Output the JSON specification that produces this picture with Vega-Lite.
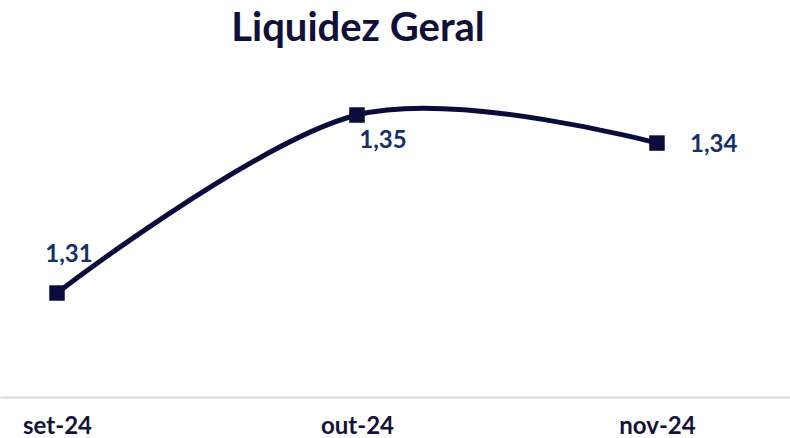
{
  "$schema": "https://vega.github.io/schema/vega-lite/v6.json",
  "width": 790,
  "height": 317,
  "autosize": "none",
  "padding": {"top": 80, "left": 0, "right": 0, "bottom": 41},
  "background": "white",
  "config": {
    "view": {"stroke": null},
    "locale": {"number": {"decimal": ",", "thousands": ".", "grouping": [3], "currency": ["R$", ""]}}
  },
  "title": {
    "text": "Liquidez Geral",
    "font": "Lato",
    "fontSize": 40,
    "fontWeight": "bold",
    "color": "#10103a",
    "anchor": "middle",
    "dx": -37,
    "offset": 31,
    "frame": "group"
  },
  "data": {
    "values": [
      {"mes": "set-24", "valor": 1.31},
      {"mes": "out-24", "valor": 1.35},
      {"mes": "nov-24", "valor": 1.3437}
    ]
  },
  "encoding": {
    "x": {
      "field": "mes",
      "type": "ordinal",
      "sort": null,
      "scale": {"type": "point", "padding": 0.3167, "align": 0.3},
      "axis": {
        "title": null,
        "labelAngle": 0,
        "ticks": false,
        "domainColor": "#d9d9d9",
        "domainWidth": 2,
        "labelFont": "Lato",
        "labelFontSize": 24,
        "labelFontWeight": "bold",
        "labelColor": "#141438",
        "labelPadding": 17
      }
    },
    "y": {
      "field": "valor",
      "type": "quantitative",
      "scale": {"domain": [1.28663, 1.35787], "zero": false, "nice": false},
      "axis": null
    }
  },
  "layer": [
    {
      "mark": {"type": "line", "interpolate": "cardinal", "tension": 0, "color": "#0c0c3c", "strokeWidth": 5}
    },
    {
      "mark": {"type": "point", "shape": "square", "filled": true, "opacity": 1, "size": 240, "color": "#0c0c3c"}
    },
    {
      "transform": [{"filter": "datum.mes === 'set-24'"}],
      "mark": {"type": "text", "font": "Lato", "fontSize": 24, "fontWeight": "bold", "color": "#15306b", "dx": 12, "dy": -38},
      "encoding": {"text": {"field": "valor", "type": "quantitative", "format": ".2f"}}
    },
    {
      "transform": [{"filter": "datum.mes === 'out-24'"}],
      "mark": {"type": "text", "font": "Lato", "fontSize": 24, "fontWeight": "bold", "color": "#15306b", "dx": 26, "dy": 26},
      "encoding": {"text": {"field": "valor", "type": "quantitative", "format": ".2f"}}
    },
    {
      "transform": [{"filter": "datum.mes === 'nov-24'"}],
      "mark": {"type": "text", "font": "Lato", "fontSize": 24, "fontWeight": "bold", "color": "#15306b", "align": "left", "dx": 33, "dy": 2},
      "encoding": {"text": {"field": "valor", "type": "quantitative", "format": ".2f"}}
    }
  ]
}
